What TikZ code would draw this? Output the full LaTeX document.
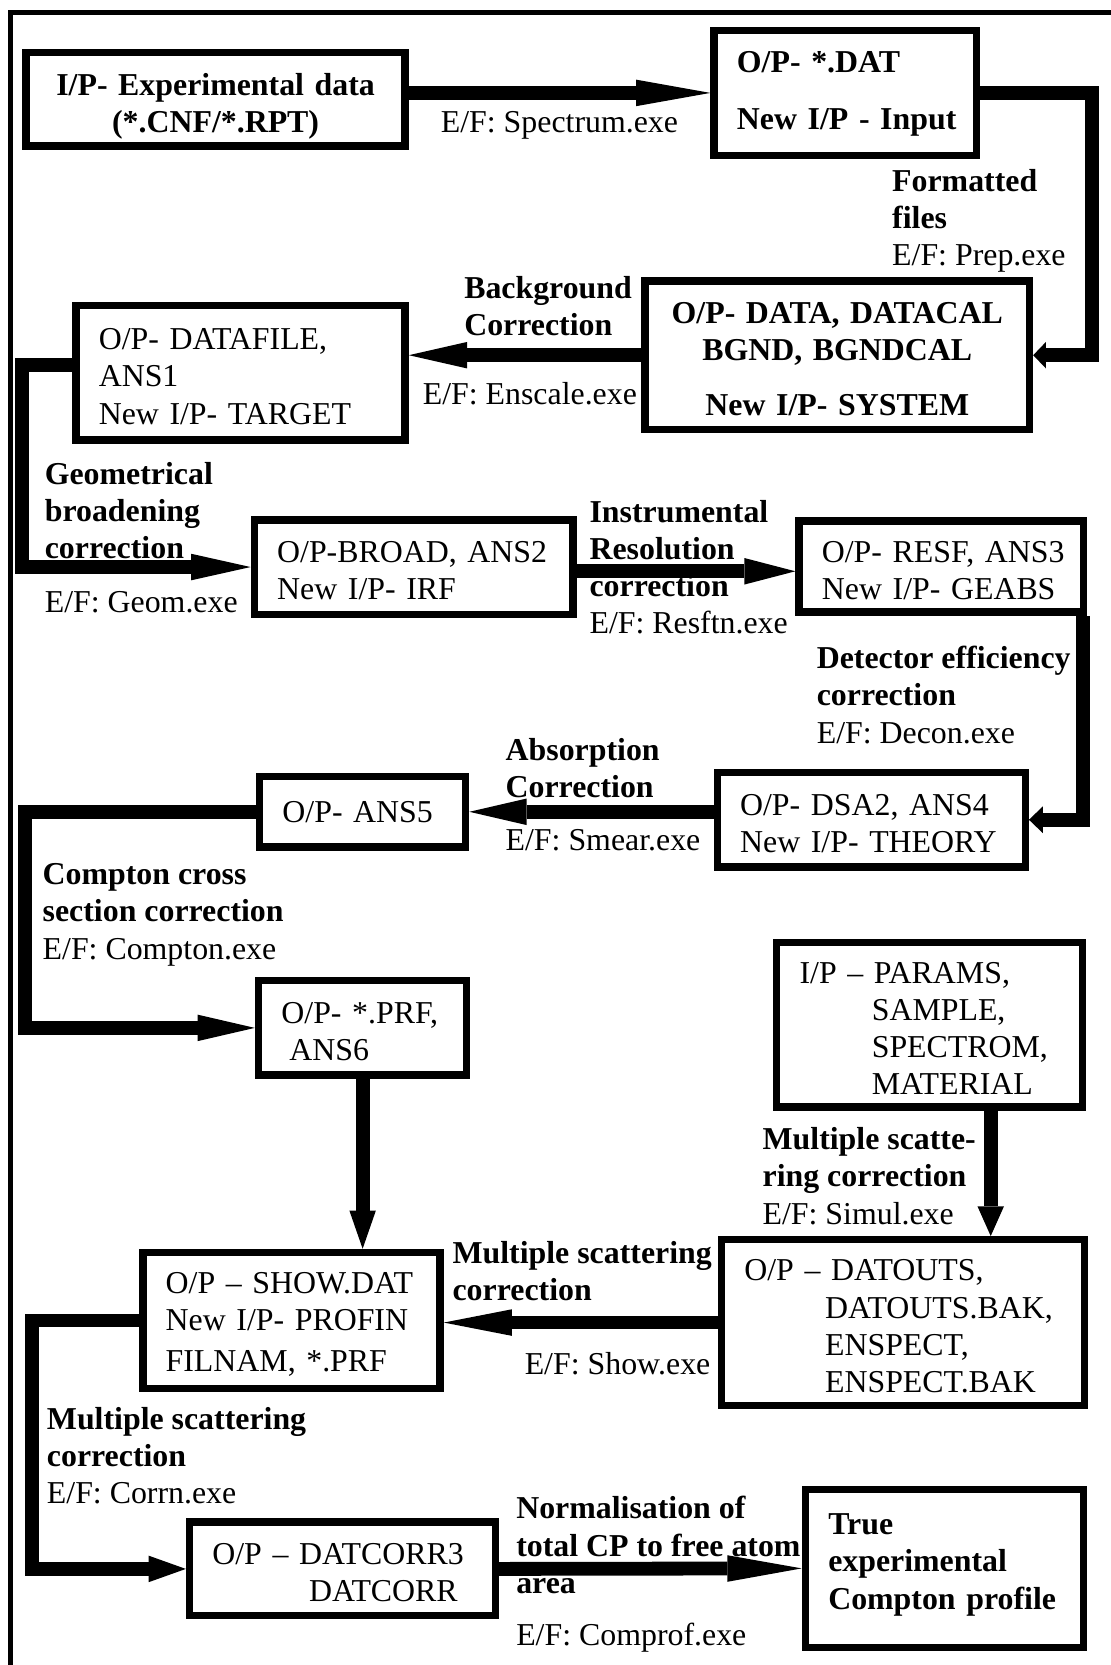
\documentclass[tikz,border=0pt]{standalone}
\usepackage{fontspec}
\setmainfont{Liberation Serif}
\usetikzlibrary{arrows.meta,calc}

\begin{document}
\begin{tikzpicture}[
      x=1pt, y=-1pt,
      font=\fontsize{30}{35}\selectfont,
      box/.style={draw, line width=7pt, inner xsep=21.5pt, inner ysep=0pt, align=left, text height=27pt,
        execute at begin node={\hyphenpenalty=10000\exhyphenpenalty=10000}},
      boldbox/.style={box, font=\fontsize{30}{35}\selectfont\bfseries},
      note/.style={anchor=west, inner sep=0pt, align=left},
      tag/.style={note, font=\fontsize{30}{35}\selectfont\bfseries},
      arrow/.style={line width=13pt, -{Triangle[length=#1, width=25pt, line width=0pt]}},
      arrow/.default=55pt
    ]
    \useasboundingbox (0,0) rectangle (1046,1568);
    \draw[line width=4.5pt] (10,1575) -- (10,12) -- (1050,12);

    \node[boldbox, align=center, text width=314pt, minimum height=88pt, text height=34pt] (expdata) at (203,93.5) {I/P-~Experimental~data\\(*.CNF/*.RPT)};
    \node[boldbox, text width=204pt, minimum height=118pt, text height=21pt] (dat) at (796,87.5) {O/P-~*.DAT\\[19pt]New~I/P~-~Input};
    \node[boldbox, align=center, text width=319pt, minimum height=140pt] (system) at (788.5,334.5) {O/P-~DATA,~DATACAL\\BGND,~BGNDCAL\\[17pt]New~I/P-~SYSTEM};
    \node[box, text width=267pt, minimum height=127pt] (target) at (226.5,351) {O/P-~DATAFILE,\\ANS1\\New~I/P-~TARGET};
    \node[box, text width=257pt, minimum height=89pt] (irf) at (389.5,534) {O/P-BROAD,~ANS2\\New~I/P-~IRF};
    \node[box, text width=225pt, minimum height=86pt] (geabs) at (886.5,533.5) {O/P-~RESF,~ANS3\\New~I/P-~GEABS};
    \node[box, text width=247pt, minimum height=89pt] (theory) at (820.5,772) {O/P-~DSA2,~ANS4\\New~I/P-~THEORY};
    \node[box, text width=151pt, minimum height=66pt, text height=21pt] (ans5) at (341.5,764.5) {O/P-~ANS5};
    \node[box, text width=153pt, minimum height=89pt] (prf) at (341.5,968) {O/P-~*.PRF,\\\hspace*{7.5pt}ANS6};
    \node[box, text width=245pt, minimum height=155pt] (params) at (875.5,965) {I/P~--~PARAMS,\\\hspace*{68pt}SAMPLE,\\\hspace*{68pt}SPECTROM,\\\hspace*{68pt}MATERIAL};
    \node[box, text width=299pt, minimum height=156pt] (datouts) at (850.5,1245.5) {O/P~--~DATOUTS,\\\hspace*{76pt}DATOUTS.BAK,\\\hspace*{76pt}ENSPECT,\\\hspace*{76pt}ENSPECT.BAK};
    \node[box, text width=237pt, minimum height=128pt] (profin) at (274.5,1243.5) {O/P~--~SHOW.DAT\\New~I/P-~PROFIN\\[4pt]FILNAM,~*.PRF};
    \node[box, text width=245pt, minimum height=88pt] (datcorr) at (322.5,1477.5) {O/P~--~DATCORR3\\\hspace*{91pt}DATCORR};
    \node[boldbox, text width=219pt, minimum height=149pt, text height=13pt] (profile) at (889.5,1477) {True\\experimental\\Compton~profile};

    \node[note] (spectrum) at (415,118) {E/F: Spectrum.exe};
    \node[note] (prep) at (840,208) {\textbf{Formatted}\\\textbf{files}\\E/F: Prep.exe};
    \node[tag] (bgnd) at (437,288) {Background\\Correction};
    \node[note] (enscale) at (398,371) {E/F: Enscale.exe};
    \node[tag] (geom) at (42,481) {Geometrical\\broadening\\correction};
    \node[note] (geomexe) at (42,567) {E/F: Geom.exe};
    \node[note] (resftn) at (555,534) {\textbf{Instrumental}\\\textbf{Resolution}\\\textbf{correction}\\E/F: Resftn.exe};
    \node[note] (decon) at (769,654.5) {\textbf{Detector efficiency}\\\textbf{correction}\\E/F: Decon.exe};
    \node[tag] (absorp) at (476,723.5) {Absorption\\Correction};
    \node[note] (smear) at (476,791) {E/F: Smear.exe};
    \node[note] (compton) at (40,861.5) {\textbf{Compton cross}\\\textbf{section correction}\\E/F: Compton.exe};
    \node[note] (simul) at (718,1107.5) {\textbf{Multiple scatte-}\\\textbf{ring correction}\\E/F: Simul.exe};
    \node[tag] (mscat) at (426,1197) {Multiple scattering\\correction};
    \node[note] (show) at (494,1284) {E/F: Show.exe};
    \node[note] (corrn) at (44,1371) {\textbf{Multiple scattering}\\\textbf{correction}\\E/F: Corrn.exe};
    \node[tag] (norm) at (486,1455) {Normalisation of\\total CP to free atom\\area};
    \node[note] (comprof) at (486,1542) {E/F: Comprof.exe};

    \coordinate (geabsout) at ($(geabs.south east)+(-4,0)$);
    \coordinate (paramsout) at ($(params.south)+(57.5,0)$);

    \draw[arrow=70pt] (expdata.east |- dat.west) -- (dat.west);
    \draw[arrow=12pt] (dat.east) -- ++(105.5,0) |- (system.east);
    \draw[arrow=55pt] (system.west) -- (system.west -| target.east);
    \draw[arrow=56pt] ([yshift=7pt]target.west) -- ++(-47,0) |- (irf.west);
    \draw[arrow=48pt] ([yshift=-4pt]irf.east) -- ([yshift=-4pt]irf.east -| geabs.west);
    \draw[arrow=13pt] (geabsout) |- (theory.east);
    \draw[arrow=54pt] (ans5.east -| theory.west) -- (ans5.east);
    \draw[arrow=54pt] (ans5.west) -- ++(-217.5,0) |- (prf.west);
    \draw[arrow=36pt] (prf.south) -- (prf.south |- profin.north);
    \draw[arrow=28pt] (paramsout) -- (paramsout |- datouts.north);
    \draw[arrow=64pt] (datouts.west) -- (datouts.west -| profin.east);
    \draw[arrow=35pt] (profin.west) -- ++(-100.5,0) |- (datcorr.west);
    \draw[arrow=70pt] (datcorr.east) -- (profile.west);
  \end{tikzpicture}
\end{document}
